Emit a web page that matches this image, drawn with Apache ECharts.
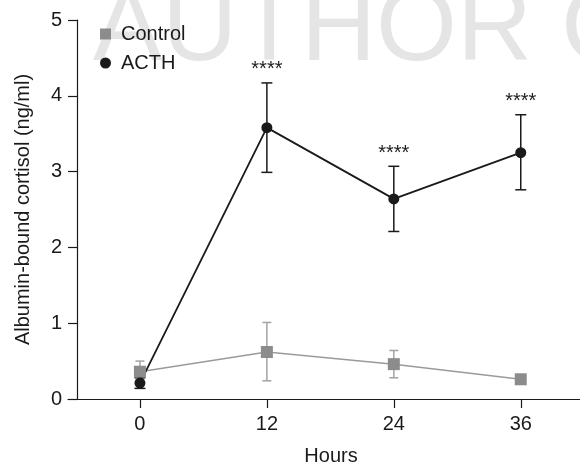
<!DOCTYPE html>
<html>
<head>
<meta charset="utf-8">
<script src="https://cdn.jsdelivr.net/npm/echarts@6/dist/echarts.min.js"></script>
<style>html,body{margin:0;padding:0;background:#fff;}#c{width:580px;height:466px;}</style>
</head>
<body>
<div id="c"></div>
<script>
var hours = [0, 12, 24, 36];
var xTicks = [0, 12, 24, 36];
var controlMean = [0.36, 0.62, 0.46, 0.26];
var controlLow  = [0.22, 0.24, 0.28, 0.21];
var controlHigh = [0.50, 1.01, 0.64, 0.31];
var acthMean = [0.21, 3.58, 2.64, 3.25];
var acthLow  = [0.14, 2.99, 2.21, 2.76];
var acthHigh = [0.28, 4.17, 3.07, 3.75];
var acthSig  = ['', '****', '****', '****'];
var seriesNames = ['Control', 'ACTH'];

var FONT = '"Liberation Sans", Arial, sans-serif';

function pairs(xs, ys) { return xs.map(function (x, i) { return [x, ys[i]]; }); }
function errData(xs, lo, hi, lab) {
  return xs.map(function (x, i) { return [x, lo[i], hi[i], lab ? lab[i] : '']; });
}
function errRender(color, capW, lw) {
  return function (params, api) {
    var x = api.value(0), lo = api.value(1), hi = api.value(2);
    var label = api.value(3);
    var pLo = api.coord([x, lo]), pHi = api.coord([x, hi]);
    var st = { stroke: color, lineWidth: lw };
    var children = [
      { type: 'line', shape: { x1: pLo[0], y1: pLo[1], x2: pHi[0], y2: pHi[1] }, style: st },
      { type: 'line', shape: { x1: pHi[0] - capW / 2, y1: pHi[1], x2: pHi[0] + capW / 2, y2: pHi[1] }, style: st },
      { type: 'line', shape: { x1: pLo[0] - capW / 2, y1: pLo[1], x2: pLo[0] + capW / 2, y2: pLo[1] }, style: st }
    ];
    if (label) {
      children.push({ type: 'text', x: pHi[0], y: pHi[1] - 13,
        style: { text: label, font: '20px ' + FONT, fill: '#222', align: 'center', verticalAlign: 'middle' } });
    }
    return { type: 'group', children: children };
  };
}
var chart = echarts.init(document.getElementById('c'), null, { renderer: 'canvas' });
chart.setOption({
  animation: false,
  backgroundColor: '#fff',
  graphic: [{
    type: 'text', z: -10, x: 93, y: 31,
    style: { text: 'AUTHOR COPY', font: '104px ' + FONT, fill: '#e5e5e5', verticalAlign: 'middle', align: 'left' }
  }],
  grid: { left: 68, right: 0, top: 20, bottom: 67, containLabel: false, outerBoundsMode: 'none' },
  legend: {
    left: 100, top: 24, orient: 'vertical', padding: 0, itemWidth: 11, itemHeight: 11, itemGap: 9,
    textStyle: { fontFamily: FONT, fontSize: 20, color: '#1a1a1a', padding: [0, 0, 0, 5] },
    data: [
      { name: seriesNames[0], icon: 'rect', itemStyle: { color: '#8c8c8c' } },
      { name: seriesNames[1], icon: 'circle', itemStyle: { color: '#1a1a1a' } }
    ]
  },
  xAxis: {
    type: 'value', min: -6.8, max: 41.6,
    name: 'Hours', nameLocation: 'middle', nameGap: 47,
    nameTextStyle: { fontFamily: FONT, fontSize: 20, color: '#1a1a1a', padding: [0, 0, 0, 14] },
    splitLine: { show: false },
    axisLine: { onZero: false, lineStyle: { color: '#1a1a1a', width: 1.2 } },
    axisTick: { show: true, length: 9, customValues: xTicks, lineStyle: { color: '#1a1a1a', width: 1.2 } },
    axisLabel: { customValues: xTicks, margin: 15, fontFamily: FONT, fontSize: 20, color: '#1a1a1a' }
  },
  yAxis: {
    type: 'value', min: 0, max: 5, interval: 1, offset: -9,
    name: 'Albumin-bound cortisol (ng/ml)', nameLocation: 'middle', nameGap: 44,
    nameTextStyle: { fontFamily: FONT, fontSize: 20, color: '#1a1a1a' },
    splitLine: { show: false },
    axisLine: { show: true, onZero: false, lineStyle: { color: '#1a1a1a', width: 1.2 } },
    axisTick: { show: true, length: 9, lineStyle: { color: '#1a1a1a', width: 1.2 } },
    axisLabel: { margin: 15, fontFamily: FONT, fontSize: 20, color: '#1a1a1a' }
  },
  series: [
    { type: 'custom', name: 'ctrlErr', renderItem: errRender('#a3a3a3', 9, 1.5),
      data: errData(hours, controlLow, controlHigh), encode: { x: 0, y: [1, 2] }, silent: true },
    { type: 'line', name: seriesNames[0], data: pairs(hours, controlMean),
      symbol: 'rect', symbolSize: 12, itemStyle: { color: '#8c8c8c' },
      lineStyle: { color: '#9a9a9a', width: 1.5 } },
    { type: 'custom', name: 'acthErr', renderItem: errRender('#1a1a1a', 11, 1.5),
      data: errData(hours, acthLow, acthHigh, acthSig), encode: { x: 0, y: [1, 2] }, silent: true },
    { type: 'line', name: seriesNames[1], data: pairs(hours, acthMean),
      symbol: 'circle', symbolSize: 11, itemStyle: { color: '#1a1a1a' },
      lineStyle: { color: '#1a1a1a', width: 1.8 } }
  ]
});
</script>
</body>
</html>
